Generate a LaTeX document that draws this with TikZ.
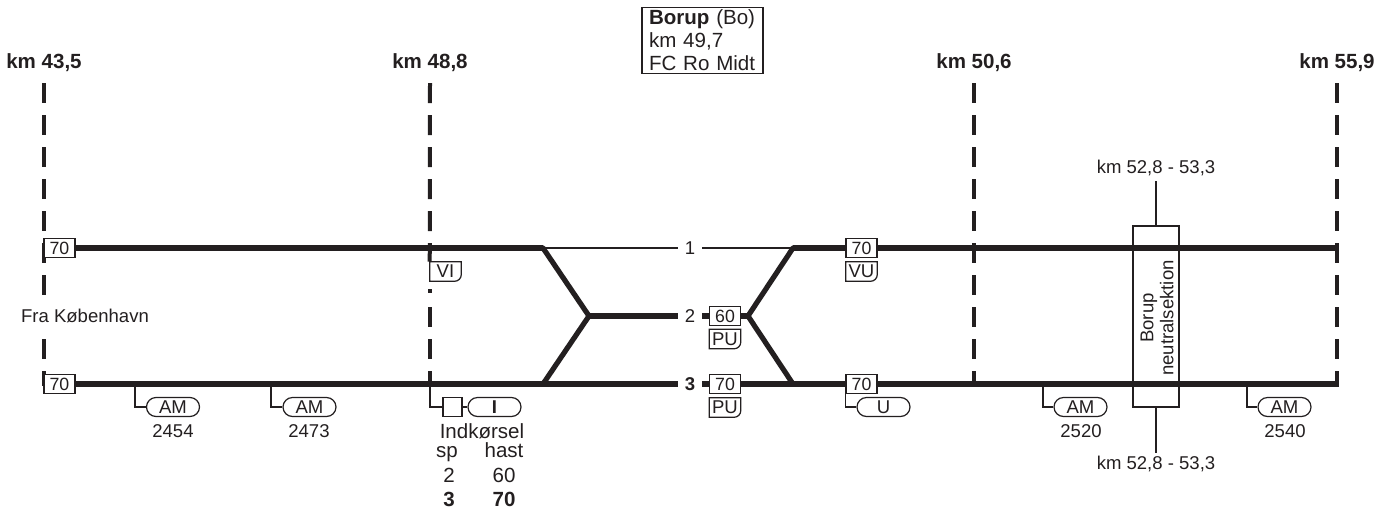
\documentclass[tikz,border=0pt]{standalone}
\usepackage{fontspec}
\setmainfont{Liberation Sans}
\usetikzlibrary{shapes.misc}
\usetikzlibrary{backgrounds}
\definecolor{ink}{HTML}{231F20}
\newcommand{\fsbig}{\fontsize{15.4}{17.25}\selectfont}
\newcommand{\fssmall}{\fontsize{13.9}{15}\selectfont}
\tikzset{
  track/.style={draw=ink,line width=3.9pt},
  diag/.style={draw=ink,line width=3.9pt,line cap=round,line join=round},
  kmline/.style={draw=ink,line width=3pt,dash pattern=on 15pt off 9pt},
  wire/.style={draw=ink,line width=0.9pt},
  speedbox/.style={draw=ink,line width=0.9pt,fill=white,minimum width=23.25pt,minimum height=14.25pt,inner sep=0pt,font=\fontsize{13.3}{15}\selectfont,text=ink},
  signbox/.style={fill=white,minimum width=23.25pt,minimum height=14.25pt,inner sep=0pt,font=\fssmall,text=ink},
  pill/.style={rounded rectangle,draw=ink,line width=0.9pt,fill=white,minimum width=39.75pt,minimum height=14.25pt,inner sep=0pt,font=\fssmall,text=ink},
  txt/.style={inner sep=0pt,font=\fssmall,text=ink,text height=10pt,text depth=0pt},
  kmtxt/.style={inner sep=0pt,font=\fsbig\bfseries,text=ink,text height=11pt,text depth=0pt},
  bigtxt/.style={inner sep=0pt,font=\fsbig,text=ink,text height=11pt,text depth=0pt},
  tracklab/.style={inner sep=0pt,minimum width=18pt,font=\fssmall,text=ink,text height=10pt,text depth=0pt}
}
\newcommand{\signshape}[3]{
  \node[signbox] (#1) at (#2) {#3};
  \draw[wire] (#1.south west) -- (#1.north west) -- (#1.north east) -- ([yshift=5pt]#1.south east) arc[start angle=0,end angle=-90,radius=5pt] -- cycle;
}
\begin{document}
\begin{tikzpicture}[x=0.75pt,y=-0.75pt]
  \useasboundingbox (0,0) rectangle (1389,508);
  % ends and switches
  \coordinate (topa) at (44,83);
  \coordinate (topb) at (430,83);
  \coordinate (topc) at (974,83);
  \coordinate (topd) at (1337,83);
  \coordinate (bota) at (44,386);
  \coordinate (botb) at (430,386);
  \coordinate (botc) at (974,386);
  \coordinate (botd) at (1337,386);
  \coordinate (midb) at (430,289);
  \coordinate (endup) at (1339,248);
  \coordinate (endlow) at (1339,384);
  \coordinate (swa) at (543,248);
  \coordinate (swb) at (589,316);
  \coordinate (swc) at (543,384);
  \coordinate (swd) at (793,248);
  \coordinate (swe) at (748,316);
  \coordinate (swf) at (793,384);
  \coordinate (tapa) at (135,384);
  \coordinate (tapb) at (271,384);
  \coordinate (tapc) at (430,384);
  \coordinate (tapd) at (1043,384);
  \coordinate (tape) at (1247,384);
  \coordinate (stubup) at (1156,181);
  \coordinate (stubdown) at (1156,453);
  % km labels
  \node[kmtxt] (kma) at (44,61) {km 43,5};
  \node[kmtxt] (kmb) at (430,61) {km 48,8};
  \node[kmtxt] (kmc) at (974,61) {km 50,6};
  \node[kmtxt] (kmd) at (1337,61) {km 55,9};
  \node[draw=ink,line width=0.9pt,align=left,text width=80.25pt,inner xsep=5.25pt,inner ysep=2pt,font=\fsbig,text=ink] (station) at (702.5,40.5) {\textbf{Borup} (Bo)\\km 49,7\\FC Ro Midt};
  \node[txt,fill=white,inner ysep=4pt] (fra) at (85,316) {Fra København};
  % speed boxes
  \node[speedbox] (spa) at (59.5,248) {70};
  \node[speedbox] (spb) at (59.5,384) {70};
  \node[speedbox] (spc) at (725,316) {60};
  \node[speedbox] (spd) at (725,384) {70};
  \node[speedbox] (spe) at (861.5,248) {70};
  \node[speedbox] (spf) at (861.5,384) {70};
  \signshape{vi}{445.5,271.5}{VI}
  \signshape{pua}{725,339}{PU}
  \signshape{pub}{725,407.5}{PU}
  \signshape{vu}{861.5,271.5}{VU}
  % track numbers
  \node[tracklab] (laba) at (690,248) {1};
  \node[tracklab] (labb) at (690,316) {2};
  \node[tracklab,font=\fssmall\bfseries] (labc) at (690,384) {3};
  % signals
  \node[pill] (ama) at (173,407) {AM};
  \node[pill] (amb) at (309.5,407) {AM};
  \node[pill] (amc) at (1080.5,407) {AM};
  \node[pill] (amd) at (1284.5,407) {AM};
  \node[pill] (pilli) at (494.5,407) {\textbf{I}};
  \node[pill] (pillu) at (883.5,407) {U};
  \node[draw=ink,line width=0.9pt,fill=white,minimum size=14.25pt,inner sep=0pt] (sq) at (452.5,407) {};
  \node[txt] (numa) at (173,431) {2454};
  \node[txt] (numb) at (309,431) {2473};
  \node[txt] (numc) at (1081,431) {2520};
  \node[txt] (numd) at (1285,431) {2540};
  % entry table
  \node[bigtxt] (ind) at (482,431) {Indkørsel};
  \node[bigtxt,text height=8pt,text depth=3pt] (sp) at (447,454) {sp};
  \node[bigtxt] (hast) at (504,450) {hast};
  \node[bigtxt] (tba) at (449,475) {2};
  \node[bigtxt] (tbb) at (504,475) {60};
  \node[kmtxt] (tbc) at (449,499) {3};
  \node[kmtxt] (tbd) at (504,499) {70};
  % neutral section
  \node[draw=ink,line width=0.9pt,minimum width=34.5pt,minimum height=135.75pt,inner sep=0pt] (neutral) at (1156,316.5) {};
  \node[rotate=90,align=center,inner sep=0pt,font=\fssmall,text=ink] (neutxt) at (1157,318) {Borup\\neutralsektion};
  \node[txt] (kmup) at (1156,167) {km 52,8 - 53,3};
  \node[txt] (kmdown) at (1156,463) {km 52,8 - 53,3};
  \begin{scope}[on background layer]
    \draw[kmline] (topa) -- (bota);
    \draw[kmline] (topb) -- (vi.north west);
    \draw[kmline,dash pattern=on 3pt off 10.5pt on 15pt off 9pt on 15pt off 9pt on 15pt off 9pt] (midb) -- (botb);
    \draw[kmline] (topc) -- (botc);
    \draw[kmline] (topd) -- (botd);
    \draw[track] (spa) -- (swa);
    \draw[track] (spb) -- (labc);
    \draw[track] (labc) -- (spd);
    \draw[track] (spd) -- (spf);
    \draw[track] (spf) -- (endlow);
    \draw[track] (swb) -- (labb);
    \draw[track] (labb) -- (spc);
    \draw[track] (spc) -- (swe);
    \draw[track] (swd) -- (spe);
    \draw[track] (spe) -- (endup);
    \draw[wire] (swa) -- (laba);
    \draw[wire] (laba) -- (swd);
    \path[diag] (swa) -- (swb) -- (swc);
    \path[diag] (swd) -- (swe) -- (swf);
  \end{scope}
  \draw[wire] (tapa) |- (ama);
  \draw[wire] (tapb) |- (amb);
  \draw[wire] (tapc) |- (sq);
  \draw[wire] (sq) -- (pilli);
  \draw[wire] (spf.south west) |- (pillu);
  \draw[wire] (tapd) |- (amc);
  \draw[wire] (tape) |- (amd);
  \draw[wire] (neutral.north) -- (stubup);
  \draw[wire] (neutral.south) -- (stubdown);
\end{tikzpicture}
\end{document}
